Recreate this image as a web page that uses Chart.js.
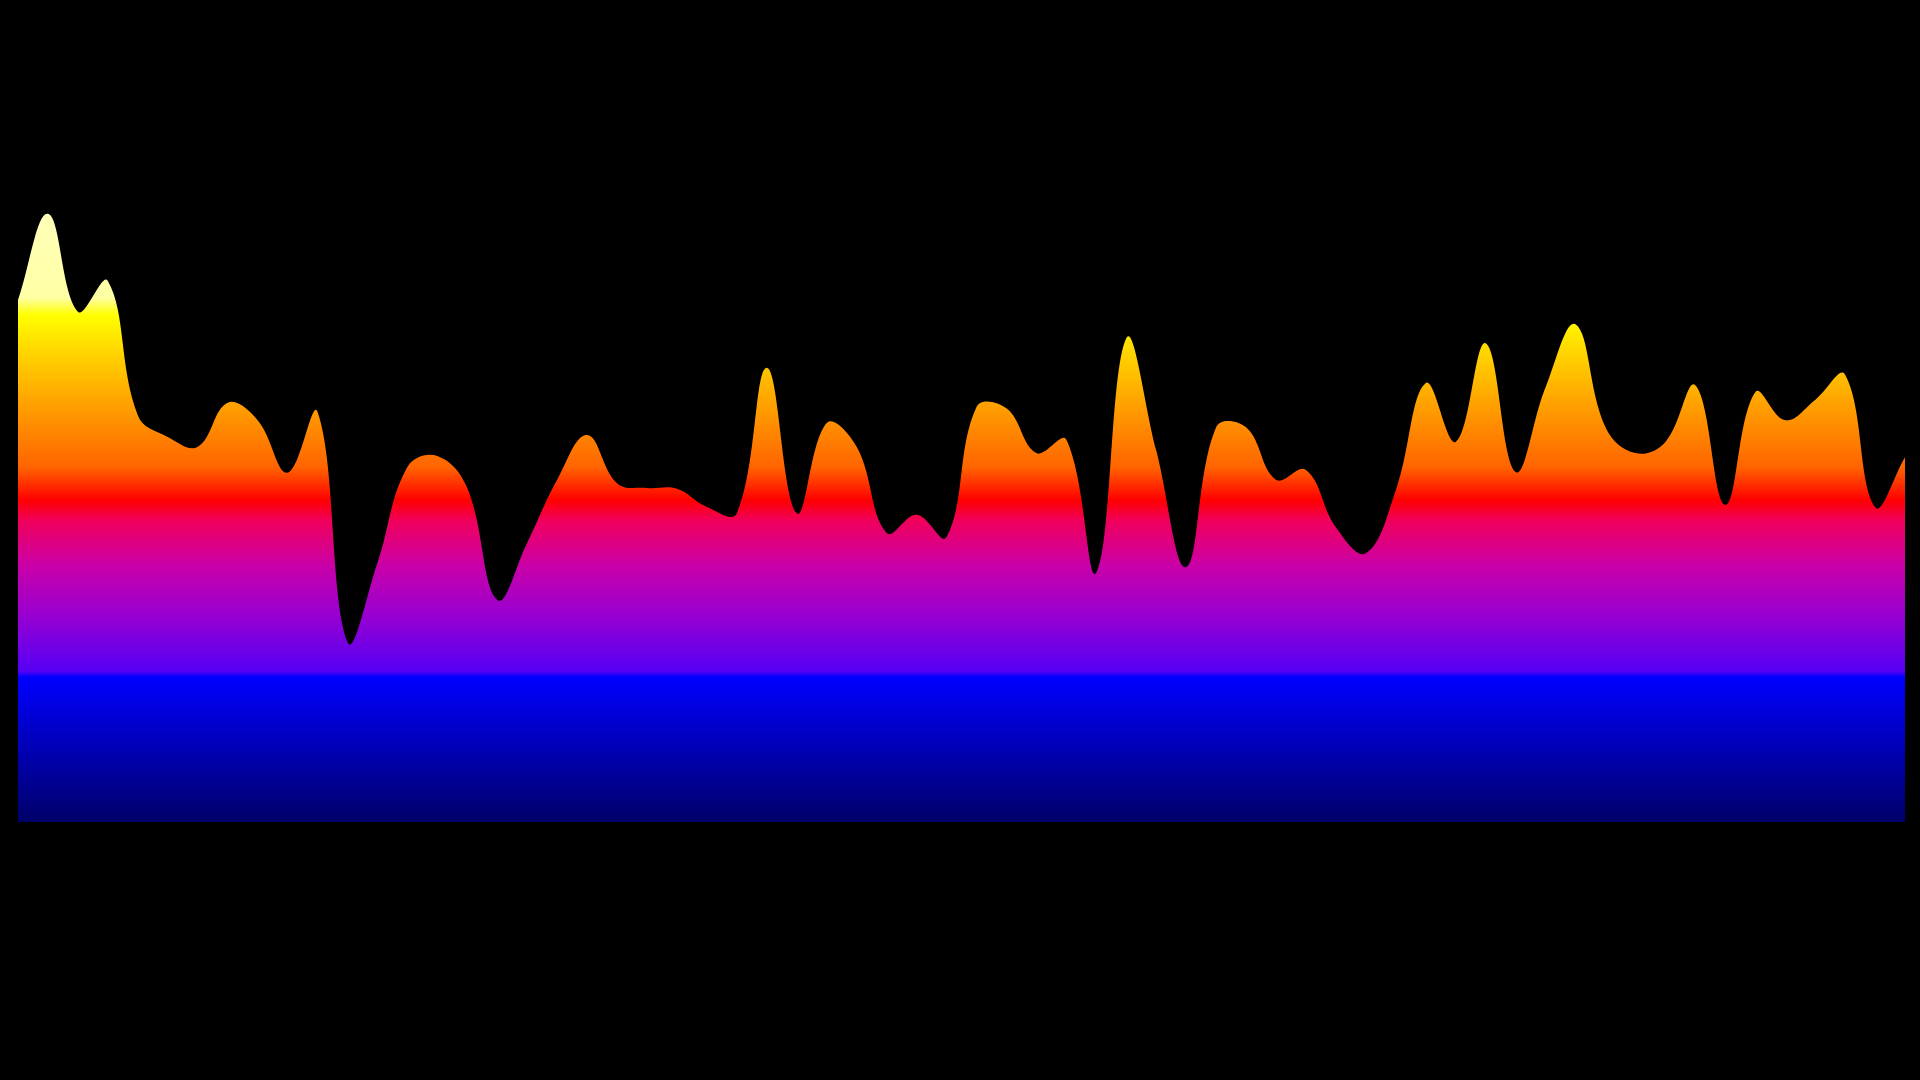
<!DOCTYPE html>
<html>
<head>
<meta charset="utf-8">
<script src="https://cdn.jsdelivr.net/npm/chart.js@4/dist/chart.umd.min.js"></script>
<style>
  html, body { margin: 0; padding: 0; background: #000; }
  #wrap { width: 1920px; height: 1080px; position: relative; }
</style>
</head>
<body>
<div id="wrap"><canvas id="c" width="1920" height="1080"></canvas></div>
<script>
// ---- data ----
const labels = Array.from({ length: 64 }, (_, i) => String(i + 1));
const values = [
  74.6, 86.9, 72.9, 77.3, 58.1, 55.0, 53.6, 59.9, 57.4, 49.9,
  58.6, 25.7, 37.0, 50.7, 52.3, 47.7, 31.7, 39.9, 48.9, 55.3,
  48.4, 47.7, 47.6, 45.0, 44.1, 64.9, 44.1, 57.0, 53.6, 41.3,
  43.9, 40.7, 59.3, 59.1, 52.7, 54.6, 35.6, 69.1, 53.1, 36.4,
  56.4, 56.4, 48.9, 50.3, 42.1, 38.4, 47.4, 62.7, 54.3, 68.4,
  50.0, 62.1, 71.1, 56.4, 52.7, 54.3, 62.4, 45.3, 61.4, 57.4,
  60.3, 63.9, 45.0, 52.1
];
const yMin = 0;
const yMax = 100;

// ---- style: gradient colour stops given in axis values ----
const gradientStops = [
  [0, 'rgb(0,0,105)'],
  [20.7, 'rgb(0,0,255)'],
  [21.5, 'rgb(85,0,245)'],
  [29.3, 'rgb(150,0,210)'],
  [36.4, 'rgb(200,0,170)'],
  [43.1, 'rgb(240,0,90)'],
  [46.0, 'rgb(255,0,0)'],
  [50.7, 'rgb(255,100,0)'],
  [60.3, 'rgb(255,165,0)'],
  [67.4, 'rgb(255,215,0)'],
  [72.4, 'rgb(255,255,0)'],
  [74.9, 'rgb(255,255,165)'],
  [100, 'rgb(255,255,205)']
];

function areaGradient(context) {
  const chart = context.chart;
  const { ctx, chartArea, scales } = chart;
  if (!chartArea) return null;
  const y = scales.y;
  const y0 = y.getPixelForValue(yMin);
  const y1 = y.getPixelForValue(yMax);
  const g = ctx.createLinearGradient(0, y0, 0, y1);
  gradientStops.forEach(([v, col]) => {
    g.addColorStop((v - yMin) / (yMax - yMin), col);
  });
  return g;
}

new Chart(document.getElementById('c'), {
  type: 'line',
  data: {
    labels: labels,
    datasets: [{
      data: values,
      fill: 'origin',
      backgroundColor: areaGradient,
      borderWidth: 0,
      borderColor: 'rgba(0,0,0,0)',
      pointRadius: 0,
      tension: 0.4
    }]
  },
  options: {
    responsive: false,
    animation: false,
    layout: { padding: { left: 18, right: 15, top: 122, bottom: 258 } },
    plugins: { legend: { display: false }, tooltip: { enabled: false } },
    scales: {
      x: { display: false },
      y: { display: false, min: yMin, max: yMax }
    }
  }
});
</script>
</body>
</html>
